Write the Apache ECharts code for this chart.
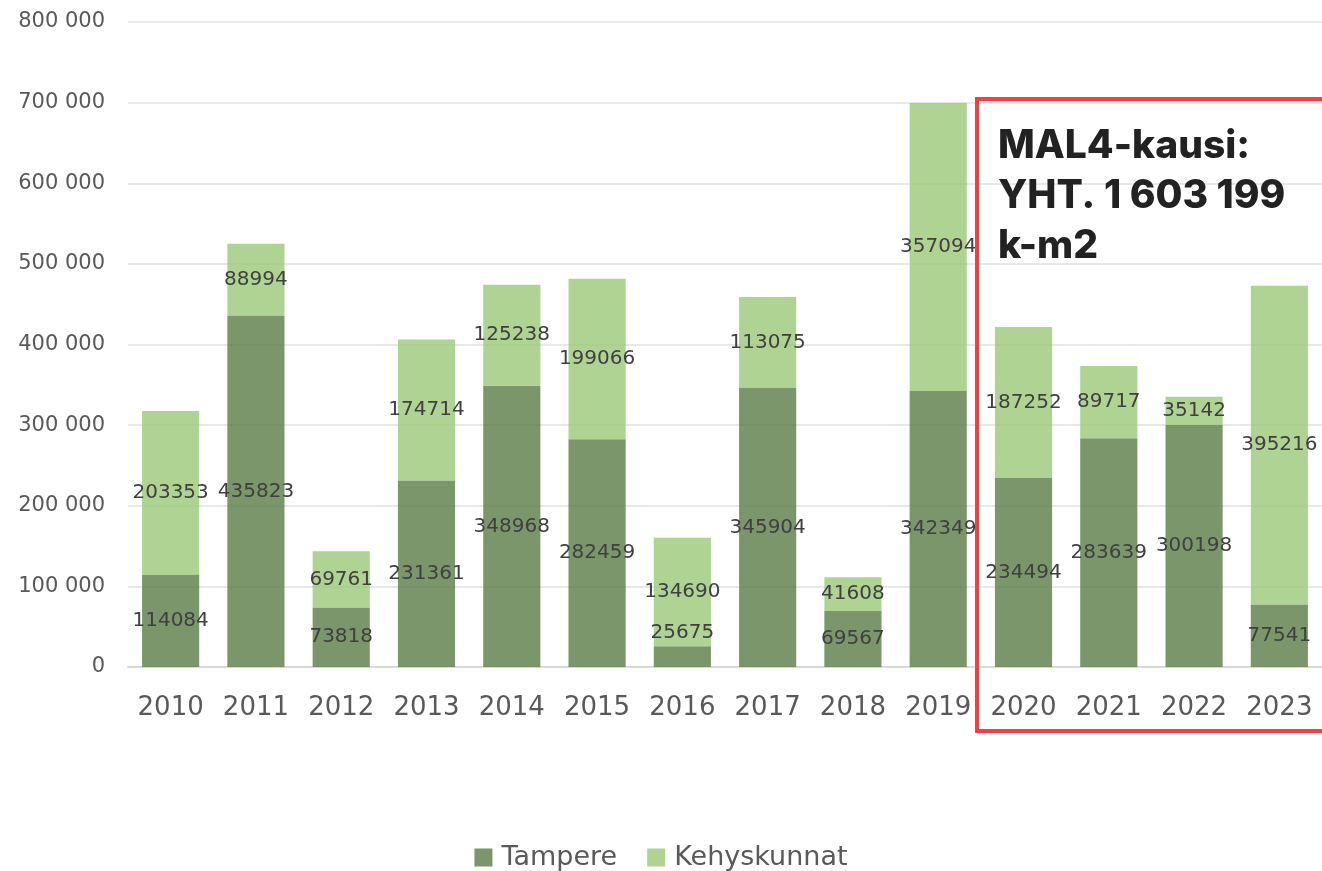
<!DOCTYPE html>
<html>
<head>
<meta charset="utf-8">
<script src="https://cdn.jsdelivr.net/npm/echarts@6/dist/echarts.min.js"></script>
<style>
  html, body { margin: 0; padding: 0; background: #fff; }
  #main { width: 1322px; height: 871px; }
</style>
</head>
<body>
<div id="main"></div>
<script>
// vuodet ja sarjat
var years = ['2010', '2011', '2012', '2013', '2014', '2015', '2016', '2017', '2018', '2019', '2020', '2021', '2022', '2023'];
var tampere = [114084, 435823, 73818, 231361, 348968, 282459, 25675, 345904, 69567, 342349, 234494, 283639, 300198, 77541];
var kehyskunnat = [203353, 88994, 69761, 174714, 125238, 199066, 134690, 113075, 41608, 357094, 187252, 89717, 35142, 395216];
var noteLines = ['MAL4-kausi:', 'YHT. 1 603 199', 'k-m2'];

var chart = echarts.init(document.getElementById('main'));

var FONT = 'DejaVu Sans';

var labelStyle = {
    show: true,
    position: 'inside',
    color: '#404040',
    fontFamily: FONT,
    fontSize: 20
};

var option = {
    animation: false,
    grid: { left: 128, right: 0, top: 22, bottom: 204 },
    legend: {
        top: 839,
        left: 'center',
        itemWidth: 18,
        itemHeight: 18,
        itemGap: 30,
        icon: 'rect',
        textStyle: { fontFamily: FONT, fontSize: 27, color: '#595959', padding: [0, 0, 0, 4] },
        data: ['Tampere', 'Kehyskunnat']
    },
    xAxis: {
        type: 'category',
        data: years,
        axisLine: { lineStyle: { color: '#d9d9d9', width: 2 } },
        axisTick: { show: false },
        axisLabel: { interval: 0, color: '#595959', fontFamily: FONT, fontSize: 26, margin: 28 }
    },
    yAxis: {
        type: 'value',
        min: 0,
        max: 800000,
        interval: 100000,
        axisLine: { show: false },
        axisTick: { show: false },
        splitLine: { lineStyle: { color: '#e8e8e8', width: 2 } },
        axisLabel: {
            color: '#595959', fontFamily: FONT, fontSize: 21, margin: 23,
            formatter: function (v) {
                return v === 0 ? '0' : String(v).replace(/\B(?=(\d{3})+(?!\d))/g, ' ');
            }
        }
    },
    series: [
        {
            name: 'Tampere',
            type: 'bar',
            stack: 'yht',
            barWidth: '67%',
            itemStyle: { color: 'rgba(89,124,69,0.8)' },
            label: labelStyle,
            data: tampere.map(function (v, i) {
                // 2016: Excel nosti pienen arvon hieman ylemmäs
                if (years[i] === '2016') return { value: v, label: { offset: [0, -24] } };
                return v;
            })
        },
        {
            name: 'Kehyskunnat',
            type: 'bar',
            stack: 'yht',
            barWidth: '67%',
            itemStyle: { color: 'rgba(155,200,120,0.8)' },
            label: labelStyle,
            data: kehyskunnat
        }
    ],
    graphic: [
        {
            type: 'rect',
            shape: { x: 977, y: 99, width: 360, height: 632 },
            style: { fill: 'none', stroke: '#f24040', lineWidth: 4 },
            z: 100
        },
        {
            type: 'text',
            left: 998,
            top: 121,
            z: 100,
            style: {
                text: noteLines.join('\n'),
                fontFamily: 'Inter',
                fontWeight: 800,
                fontSize: 39,
                lineHeight: 50,
                fill: '#222222'
            }
        }
    ]
};

chart.setOption(option);
</script>
</body>
</html>
